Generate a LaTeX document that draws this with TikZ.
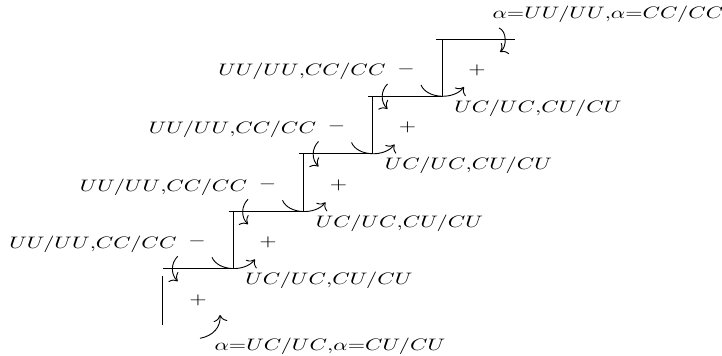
\documentclass[tikz,border=0pt]{standalone}
\usetikzlibrary{arrows.meta}
\begin{document}
\begin{tikzpicture}[x=0.6024pt,y=-0.6024pt,
  stair/.style={line width=0.55pt},
  turn/.style={-{To[scale=1.4]},line width=0.55pt},
  lab/.style={inner sep=0pt, xscale=1.343, transform shape, anchor=base},
  sgn/.style={inner sep=0pt, xscale=1.343, transform shape}]
\useasboundingbox (0,0) rectangle (722,356);
% staircase corners
\coordinate (v0t) at (162.7,276);
\coordinate (v0b) at (162.7,325);
\coordinate (h1s) at (162.7,268.3);
\coordinate (c1) at (233,268.3);
\coordinate (t1) at (233,211.3);
\coordinate (h2s) at (228.5,211.3);
\coordinate (c2) at (303.5,211.3);
\coordinate (t2) at (303.5,153.5);
\coordinate (h3s) at (299,153.5);
\coordinate (c3) at (372.5,153.5);
\coordinate (t3) at (372.5,96);
\coordinate (h4s) at (368,96);
\coordinate (c4) at (442,96);
\coordinate (t4) at (442,39);
\coordinate (h5s) at (436,39);
\coordinate (h5e) at (515,39);
\draw[stair] (v0t) -- (v0b);
\draw[stair] (h1s) -- (c1) -- (t1);
\draw[stair] (h2s) -- (c2) -- (t2);
\draw[stair] (h3s) -- (c3) -- (t3);
\draw[stair] (h4s) -- (c4) -- (t4);
\draw[stair] (h5s) -- (h5e);
% corner arrows (lower right corners)
\foreach \x/\y in {233/268.3,303.5/211.3,372.5/153.5,442/96}{
  \draw[turn] (\x-21,\y-11) .. controls (\x-15,\y+3) and (\x+12,\y+4) .. (\x+22,\y-9);
}
% arrows crossing the treads
\foreach \x/\y in {162.7/268.3,233/211.3,303.5/153.5,372.5/96}{
  \draw[turn] (\x+15,\y-12) .. controls (\x+8,\y-5) and (\x+8,\y+6) .. (\x+15,\y+13);
}
% top and bottom arrows
\draw[turn] (499,28) .. controls (507,31) and (507,47) .. (500,52);
\draw[turn] (200,338.3) .. controls (213,336) and (221,327) .. (220,315);
% labels
\foreach \x/\y in {233/268.3,303.5/211.3,372.5/153.5,442/96}{
  \node[lab] at (\x-140,\y-20) {$UU/UU{,}CC/CC$};
  \node[sgn] at (\x-36,\y-27) {$-$};
  \node[lab] at (\x+96,\y+16.5) {$UC/UC{,}CU/CU$};
}
\foreach \x/\y in {233/242.3,303.5/184.9,372.5/127.3,442/70}{
  \node[sgn] at (\x+35,\y) {$+$};
}
\node[sgn] (p0) at (198,300) {$+$};
\node[lab] (top) at (608,18.5) {$\alpha{=}UU/UU{,}\alpha{=}CC/CC$};
\node[lab] (bot) at (330,350.5) {$\alpha{=}UC/UC{,}\alpha{=}CU/CU$};
\end{tikzpicture}
\end{document}
